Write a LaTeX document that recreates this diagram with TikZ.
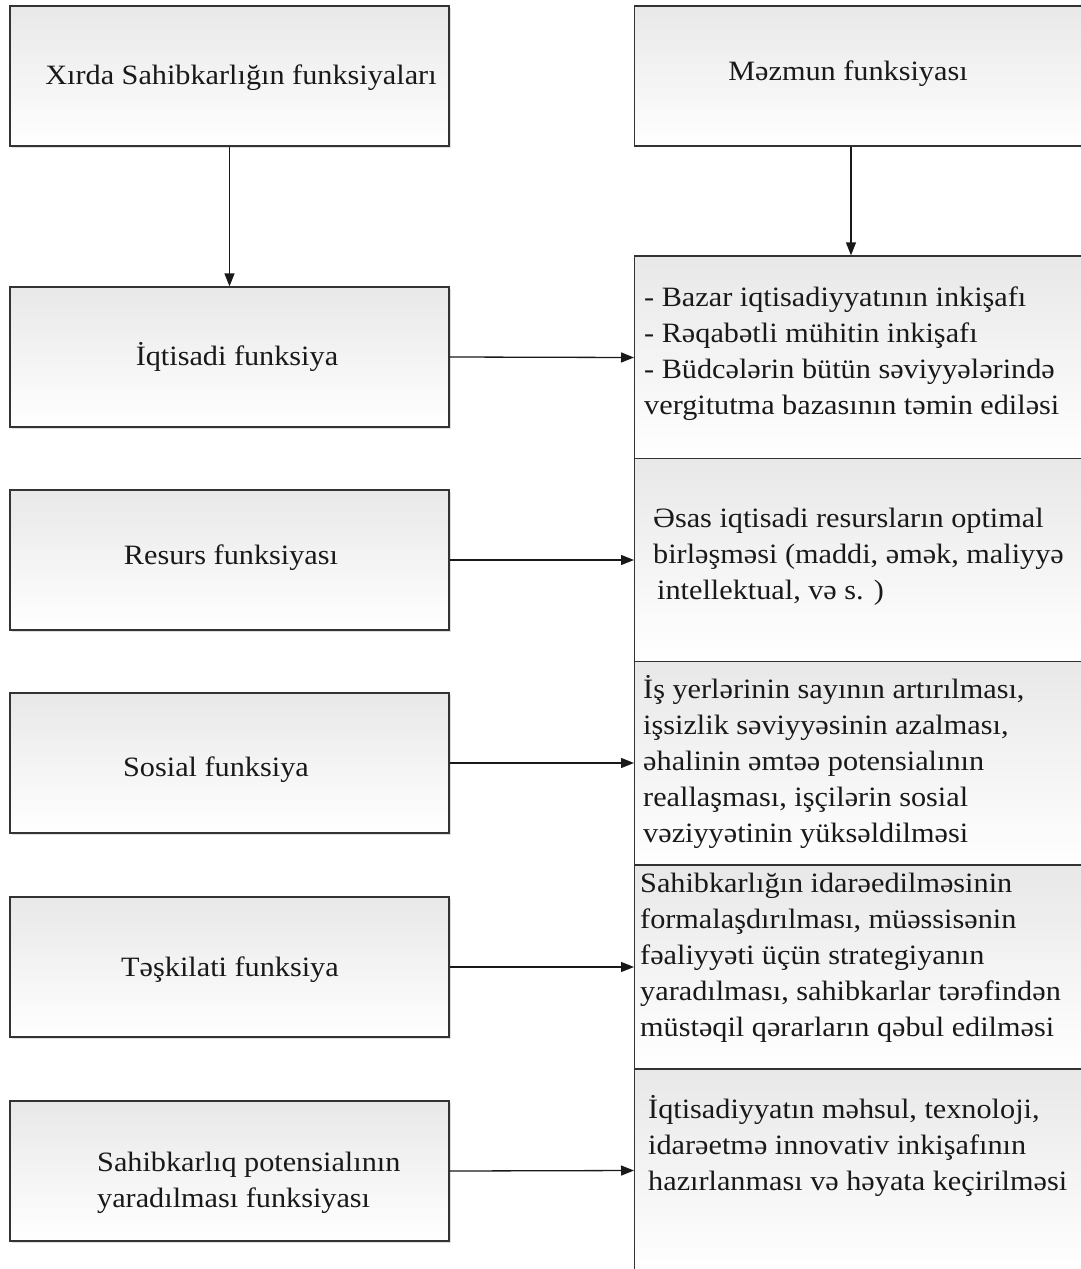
\documentclass[tikz,border=0pt]{standalone}
\usepackage{fontspec}
\setmainfont{Liberation Serif}[FakeStretch=1.08]
\usetikzlibrary{arrows.meta,shadows}
\begin{document}
\begin{tikzpicture}[x=1pt,y=-1pt,
  lbox/.style={draw=black!80, line width=1.3pt, top color=black!9, bottom color=white,
    minimum width=439pt, minimum height=140pt, inner sep=0pt,
    drop shadow={shadow xshift=2pt,shadow yshift=-2pt,opacity=0.25}},
  rbox/.style={draw=black!80, line width=1.3pt, top color=black!9, bottom color=white,
    minimum width=466pt, minimum height=203pt, inner sep=0pt, anchor=west},
  txt/.style={font=\fontsize{28}{36}\selectfont, inner sep=0pt, align=left, text=black!90},
  arr/.style={line width=1.3pt, draw=black!90, -{Triangle[length=13pt,width=10pt]}}]
\useasboundingbox (0,0) rectangle (1081,1269);
\clip (0,0) rectangle (1081,1269);
\fill[white] (0,0) rectangle (1081,1269);
% left column
\node[lbox] (l0) at (229.5,76) {};
\node[lbox] (l1) at (229.5,357) {};
\node[lbox] (l2) at (229.5,560) {};
\node[lbox] (l3) at (229.5,763) {};
\node[lbox] (l4) at (229.5,967) {};
\node[lbox] (l5) at (229.5,1171) {};
% right column
\node[rbox, minimum height=140pt] (r0) at (634,76) {};
\node[rbox] (r1) at (634,357.5) {};
\node[rbox] (r2) at (634,560) {};
\node[rbox] (r3) at (634,763) {};
\node[rbox] (r4) at (634,967) {};
\node[rbox] (r5) at (634,1170.5) {};
% texts left
\node[txt] (t0) at (241,78) {Xırda Sahibkarlığın funksiyaları};
\node[txt] (t1) at (237,357) {İqtisadi funksiya};
\node[txt] (t2) at (231,558) {Resurs funksiyası};
\node[txt] (t3) at (216,770) {Sosial funksiya};
\node[txt] (t4) at (230,970) {Təşkilati funksiya};
\node[txt, anchor=west] (t5) at (97,1183) {Sahibkarlıq potensialının\\yaradılması funksiyası};
% texts right
\node[txt] (u0) at (848,74) {Məzmun funksiyası};
\node[txt, anchor=west] (u1) at (644,354) {- Bazar iqtisadiyyatının inkişafı\\- Rəqabətli mühitin inkişafı\\- Büdcələrin bütün səviyyələrində\\vergitutma bazasının təmin ediləsi};
\node[txt, anchor=west] (u2) at (653,557) {Əsas iqtisadi resursların optimal\\birləşməsi (maddi, əmək, maliyyə\\\hspace*{4pt}intellektual, və s. )};
\node[txt, anchor=west] (u3) at (643,762) {İş yerlərinin sayının artırılması,\\işsizlik səviyyəsinin azalması,\\əhalinin əmtəə potensialının\\reallaşması, işçilərin sosial\\vəziyyətinin yüksəldilməsi};
\node[txt, anchor=west] (u4) at (640,958) {Sahibkarlığın idarəedilməsinin\\formalaşdırılması, müəssisənin\\fəaliyyəti üçün strategiyanın\\yaradılması, sahibkarlar tərəfindən\\müstəqil qərarların qəbul edilməsi};
\node[txt, anchor=west] (u5) at (648,1146) {İqtisadiyyatın məhsul, texnoloji,\\idarəetmə innovativ inkişafının\\hazırlanması və həyata keçirilməsi};
% connectors
\coordinate (ax) at (851,0);
\draw[arr] (l0.south) -- (l1.north);
\draw[arr] (r0.south -| ax) -- (r1.north -| ax);
\draw[arr] (l1.east) -- (r1.west);
\draw[arr] (l2.east) -- (r2.west);
\draw[arr] (l3.east) -- (r3.west);
\draw[arr] (l4.east) -- (r4.west);
\draw[arr] (l5.east) -- (r5.west);
\end{tikzpicture}
\end{document}
